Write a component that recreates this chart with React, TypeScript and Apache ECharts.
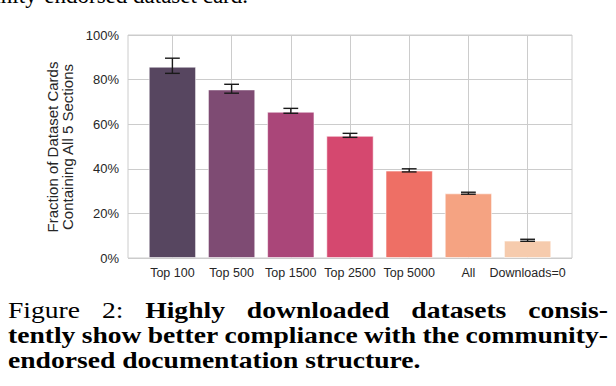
import React, { useEffect, useRef } from "react";
import * as echarts from "echarts";

const categories = ["Top 100", "Top 500", "Top 1500", "Top 2500", "Top 5000", "All", "Downloads=0"];
const values = [85.8, 75.6, 65.6, 54.8, 39.2, 29.0, 7.8];
const errLow = [82.8, 73.9, 64.9, 54.1, 38.6, 28.6, 7.5];
const errHigh = [89.6, 77.9, 67.1, 55.9, 40.0, 29.5, 8.4];
const barColors = ["#574660", "#7e4b73", "#aa4679", "#d5486f", "#ee6f65", "#f5a382", "#f6cbad"];
const yTitleLines = ["Fraction of Dataset Cards", "Containing All 5 Sections"];
const topText = "community-endorsed dataset card.";
const captionLine1 = [
  { t: "Figure", b: false },
  { t: "2:", b: false },
  { t: "Highly", b: true },
  { t: "downloaded", b: true },
  { t: "datasets", b: true },
  { t: "consis-", b: true },
];
const captionLine2 = ["tently", "show", "better", "compliance", "with", "the", "community-"].map((t) => ({ t, b: true }));
const captionLine3 = "endorsed documentation structure.";

const SERIF = '"Liberation Serif", "Times New Roman", serif';
const SANS = '"Liberation Sans", Arial, sans-serif';
const CAP_SIZE = 23;
const CAP_SX = 1.2;

function measure(text: string, bold: boolean): number {
  const c = document.createElement("canvas").getContext("2d")!;
  c.font = `${bold ? "bold " : ""}${CAP_SIZE}px ${SERIF}`;
  return c.measureText(text).width * CAP_SX;
}

function justified(words: { t: string; b: boolean }[], y: number, x0: number, x1: number) {
  const widths = words.map((w) => measure(w.t, w.b));
  const total = widths.reduce((a, b) => a + b, 0);
  const gap = (x1 - x0 - total) / (words.length - 1);
  let x = x0;
  return words.map((w, i) => {
    const el = {
      type: "text",
      x,
      y,
      scaleX: CAP_SX,
      style: {
        text: w.t,
        font: `${w.b ? "bold " : ""}${CAP_SIZE}px ${SERIF}`,
        fill: "#000",
        textAlign: "left",
        textVerticalAlign: "middle",
      },
    };
    x += widths[i] + gap;
    return el;
  });
}

export default function App() {
  const ref = useRef<HTMLDivElement>(null);
  useEffect(() => {
    const chart = echarts.init(ref.current!, null, { renderer: "svg" });
    const gridTop = 35;
    const gridBottom = 128;
    const option: any = {
      animation: false,
      backgroundColor: "#ffffff",
      grid: [
        { left: 128, right: 44, top: gridTop, bottom: gridBottom, show: true, borderColor: "#cccccc", borderWidth: 1, backgroundColor: "transparent" },
        { left: 142.8, right: 58.8, top: gridTop, bottom: gridBottom },
      ],
      xAxis: [
        {
          type: "value",
          gridIndex: 0,
          min: -0.75,
          max: 6.75,
          axisLine: { show: false },
          axisTick: { show: false, customValues: categories.map((_, i) => i) },
          axisLabel: { show: false, customValues: categories.map((_, i) => i) },
          splitLine: { show: true, lineStyle: { color: "#cccccc", width: 1 } },
        },
        {
          type: "category",
          gridIndex: 1,
          data: categories,
          axisLine: { show: false },
          axisTick: { show: false },
          splitLine: { show: false },
          axisLabel: { color: "#262626", fontSize: 12.5, fontFamily: SANS, margin: 8, interval: 0 },
        },
      ],
      yAxis: [
        {
          type: "value",
          gridIndex: 0,
          min: 0,
          max: 100,
          interval: 20,
          axisLine: { show: false },
          axisTick: { show: false },
          axisLabel: { color: "#262626", fontSize: 13, fontFamily: SANS, margin: 9, formatter: "{value}%" },
          splitLine: { show: true, lineStyle: { color: "#cccccc", width: 1 } },
        },
        {
          type: "value",
          gridIndex: 1,
          min: 0,
          max: 100,
          interval: 20,
          show: false,
          splitLine: { show: false },
        },
      ],
      series: [
        {
          type: "bar",
          xAxisIndex: 1,
          yAxisIndex: 1,
          barCategoryGap: "20%",
          data: values.map((v, i) => ({
            value: v,
            itemStyle: { color: barColors[i], borderColor: "rgba(255,255,255,0.55)", borderWidth: 1 },
          })),
        },
        {
          type: "custom",
          xAxisIndex: 1,
          yAxisIndex: 1,
          z: 5,
          data: categories.map((_, i) => [i, errLow[i], errHigh[i]]),
          renderItem: (params: any, api: any) => {
            const lo = api.coord([api.value(0), api.value(1)]);
            const hi = api.coord([api.value(0), api.value(2)]);
            const half = api.size([1, 0])[0] * 0.125;
            const st = { stroke: "#1a1a1a", lineWidth: 1.4 };
            return {
              type: "group",
              children: [
                { type: "line", shape: { x1: lo[0], y1: lo[1], x2: hi[0], y2: hi[1] }, style: st },
                { type: "line", shape: { x1: hi[0] - half, y1: hi[1], x2: hi[0] + half, y2: hi[1] }, style: st },
                { type: "line", shape: { x1: lo[0] - half, y1: lo[1], x2: lo[0] + half, y2: lo[1] }, style: st },
              ],
            };
          },
        },
      ],
      graphic: [
        {
          type: "text",
          x: 59.5,
          y: 147,
          rotation: Math.PI / 2,
          style: {
            text: yTitleLines.join("\n"),
            font: `15px ${SANS}`,
            lineHeight: 15,
            fill: "#262626",
            textAlign: "center",
            textVerticalAlign: "middle",
          },
        },
        {
          type: "text",
          x: 248,
          y: -4.8,
          style: { text: topText, font: `${CAP_SIZE}px ${SERIF}`, fill: "#000", textAlign: "right", textVerticalAlign: "middle" },
        },
        ...justified(captionLine1, 310, 8, 608),
        ...justified(captionLine2, 335, 8, 608),
        {
          type: "text",
          x: 8,
          y: 360,
          scaleX: CAP_SX,
          style: { text: captionLine3, font: `bold ${CAP_SIZE}px ${SERIF}`, fill: "#000", textAlign: "left", textVerticalAlign: "middle" },
        },
      ],
    };
    chart.setOption(option);
    return () => chart.dispose();
  }, []);
  return <div ref={ref} style={{ position: "absolute", left: 0, top: 0, width: 616, height: 386 }} />;
}
